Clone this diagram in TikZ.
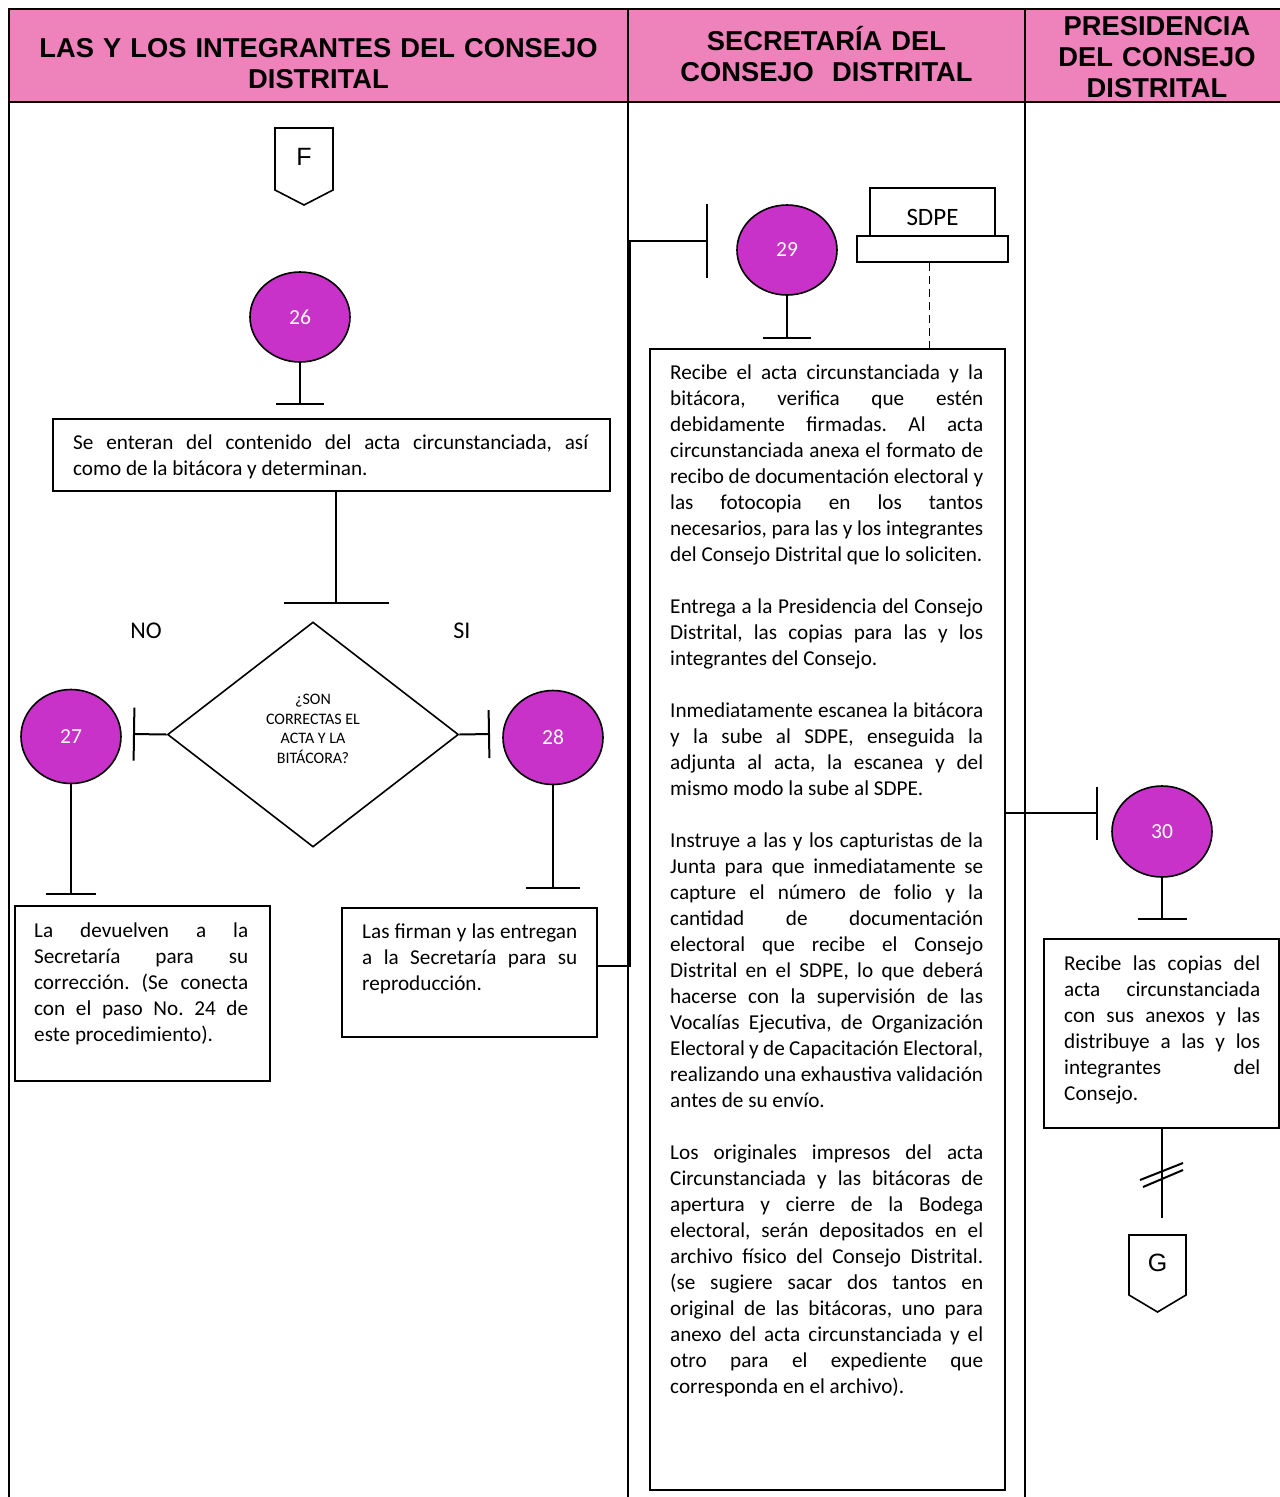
\documentclass[tikz,border=0pt]{standalone}
\usepackage{fontspec}
\setmainfont{Carlito}
\newfontfamily\headfont{Liberation Sans}
\usetikzlibrary{shapes.geometric,arrows.meta}
\definecolor{headpink}{RGB}{238,130,186}
\definecolor{stepfill}{RGB}{200,50,200}
\AtBeginDocument{\hyphenpenalty=10000\relax\tolerance=9999\relax\frenchspacing}
\tikzset{
  lane/.style={line width=2.4pt},
  headtext/.style={font=\headfont\bfseries\fontsize{27.3}{31}\selectfont, align=center, anchor=base, inner sep=0pt},
  stepcircle/.style={ellipse, draw, line width=1.6pt, fill=stepfill, minimum width=100pt, minimum height=90pt, inner sep=0pt, text=white, font=\fontsize{21.5}{25}\selectfont},
  actbox/.style={draw, line width=2pt, rectangle, inner sep=0pt, anchor=north west},
  bodytext/.style={font=\fontsize{21.2}{26}\selectfont, align=justify, anchor=base west, inner sep=0pt},
  flow/.style={line width=2pt},
  tee/.style={flow, -{Bar[width=#1]}},
  offpage/.style={line width=1.6pt, line join=miter},
  offletter/.style={font=\headfont\fontsize{25}{25}\selectfont, inner sep=0pt},
  branchlabel/.style={font=\fontsize{24}{28}\selectfont, inner sep=0pt},
}
\begin{document}
\begin{tikzpicture}[x=1pt,y=-1pt]
\useasboundingbox (0,0) rectangle (1280,1497);

% lane headers and frame
\fill[headpink] (9,9) rectangle (1280,102);
\draw[lane] (9,1497) -- (9,9) -- (1280,9);
\draw[lane] (9,102) -- (1280,102);
\draw[lane] (628,9) -- (628,1497);
\draw[lane] (1025,9) -- (1025,1497);
\node[headtext, text width=600pt] (h1) at (318.5,57) {LAS Y LOS INTEGRANTES DEL CONSEJO\\DISTRITAL};
\node[headtext, text width=390pt] (h2) at (826.5,50) {SECRETARÍA DEL\\CONSEJO~ DISTRITAL};
\node[headtext, text width=250pt] (h3) at (1157,35) {PRESIDENCIA\\DEL CONSEJO\\DISTRITAL};

% off-page connector F
\draw[offpage] (275,128) -- (333,128) -- (333,190) -- (304,205) -- (275,190) -- cycle;
\node[offletter] (offF) at (304,157) {F};

% step 26
\node[stepcircle] (c26) at (300,317) {26};
\coordinate (t26) at (300,405);
\draw[tee=48pt] (c26.south) -- (t26);
\node[actbox, minimum width=557pt, minimum height=72pt] (b26) at (52,418) {};
\node[bodytext, text width=515pt] (b26t) at (73,449) {Se enteran del contenido del acta circunstanciada, así\linebreak como de la bitácora y determinan.};
\coordinate (tdec) at (336,604);
\draw[tee=105pt] (b26.south -| tdec) -- (tdec);

% decision
\node[diamond, draw, line width=1.6pt, minimum width=291pt, minimum height=225pt, inner sep=0pt, align=center, font=\fontsize{16}{19.5}\selectfont] (dec) at (313,734.5) {¿SON\\CORRECTAS EL\\ACTA Y LA\\BITÁCORA?\\[-8pt]};
\node[branchlabel] (lno) at (146,631) {NO};
\node[branchlabel] (lsi) at (462,631) {SI};
\coordinate (t27) at (133,734);
\coordinate (t28) at (490,734);
\draw[tee=53pt] (dec.west) -- (t27);
\draw[tee=48pt] (dec.east) -- (t28);

% step 27
\node[stepcircle, minimum height=94pt] (c27) at (71,736.5) {27};
\coordinate (t27b) at (71,895);
\draw[tee=50pt] (c27.south) -- (t27b);
\node[actbox, minimum width=255pt, minimum height=175pt] (b27) at (14,905) {};
\node[bodytext, text width=214pt] (b27t) at (34,937) {La devuelven a la\linebreak Secretaría para su\linebreak corrección. (Se conecta\linebreak con el paso No. 24 de\linebreak este procedimiento).};

% step 28
\node[stepcircle, minimum height=94pt] (c28) at (553,737.5) {28};
\coordinate (t28b) at (553,889);
\draw[tee=54pt] (c28.south) -- (t28b);
\node[actbox, minimum width=255pt, minimum height=129pt] (b28) at (341,907) {};
\node[bodytext, text width=215pt] (b28t) at (362,938) {Las firman y las entregan\linebreak a la Secretaría para su\linebreak reproducción.};

% step 29
\coordinate (t29) at (708,241);
\draw[tee=74pt] ([yshift=6.5pt]b28.east) -- ++(32,0) |- (t29);
\node[stepcircle] (c29) at (787,250) {29};
\coordinate (t29b) at (787,339);
\draw[tee=48pt] (c29.south) -- (t29b);
\node[actbox, minimum width=125pt, minimum height=48pt, text height=26pt, text depth=0pt, font=\fontsize{25}{28}\selectfont] (sdpe) at (869,187) {SDPE};
\node[actbox, minimum width=151pt, minimum height=26pt] (sdpebase) at (856,235) {};
\node[actbox, minimum width=355pt, minimum height=1141pt] (b29) at (649,348) {};
\draw[flow, line width=1.5pt, dash pattern=on 8pt off 5pt] ([xshift=-3pt]sdpebase.south) -- ([xshift=-3pt]sdpebase.south |- b29.north);
\node[bodytext, text width=313pt] (b29t) at (670,379) {%
Recibe el acta circunstanciada y la\linebreak bitácora, verifica que estén\linebreak debidamente firmadas. Al acta\linebreak circunstanciada anexa el formato de\linebreak recibo de documentación electoral y\linebreak las fotocopia en los tantos\linebreak necesarios, para las y los integrantes\linebreak del Consejo Distrital que lo soliciten.\par\vspace{26pt}%
Entrega a la Presidencia del Consejo\linebreak Distrital, las copias para las y los\linebreak integrantes del Consejo.\par\vspace{26pt}%
Inmediatamente escanea la bitácora\linebreak y la sube al SDPE, enseguida la\linebreak adjunta al acta, la escanea y del\linebreak mismo modo la sube al SDPE.\par\vspace{26pt}%
Instruye a las y los capturistas de la\linebreak Junta para que inmediatamente se\linebreak capture el número de folio y la\linebreak cantidad de documentación\linebreak electoral que recibe el Consejo\linebreak Distrital en el SDPE, lo que deberá\linebreak hacerse con la supervisión de las\linebreak Vocalías Ejecutiva, de Organización\linebreak Electoral y de Capacitación Electoral,\linebreak realizando una exhaustiva validación\linebreak antes de su envío.\par\vspace{26pt}%
Los originales impresos del acta\linebreak Circunstanciada y las bitácoras de\linebreak apertura y cierre de la Bodega\linebreak electoral, serán depositados en el\linebreak archivo físico del Consejo Distrital.\linebreak (se sugiere sacar dos tantos en\linebreak original de las bitácoras, uno para\linebreak anexo del acta circunstanciada y el\linebreak otro para el expediente que\linebreak corresponda en el archivo).};

% step 30
\coordinate (t30) at (1098,813);
\draw[tee=53pt] (b29.east |- t30) -- (t30);
\node[stepcircle, minimum height=91pt] (c30) at (1162,831.5) {30};
\coordinate (t30b) at (1162,920);
\draw[tee=49pt] (c30.south) -- (t30b);
\node[actbox, minimum width=235pt, minimum height=189pt] (b30) at (1043,938) {};
\node[bodytext, text width=196pt] (b30t) at (1064,970) {Recibe las copias del\linebreak acta circunstanciada\linebreak con sus anexos y las\linebreak distribuye a las y los\linebreak integrantes del\linebreak Consejo.};

% link to off-page connector G
\coordinate (gend) at (1162,1218);
\draw[flow] (b30.south -| gend) -- (gend);
\draw[flow] ([shift={(-22,-38)}]gend) -- ([shift={(21,-55)}]gend);
\draw[flow] ([shift={(-19,-31)}]gend) -- ([shift={(21,-48)}]gend);
\draw[offpage] (1129,1235) -- (1186,1235) -- (1186,1295) -- (1157.5,1312) -- (1129,1295) -- cycle;
\node[offletter] (offG) at (1157.5,1263) {G};
\end{tikzpicture}
\end{document}
